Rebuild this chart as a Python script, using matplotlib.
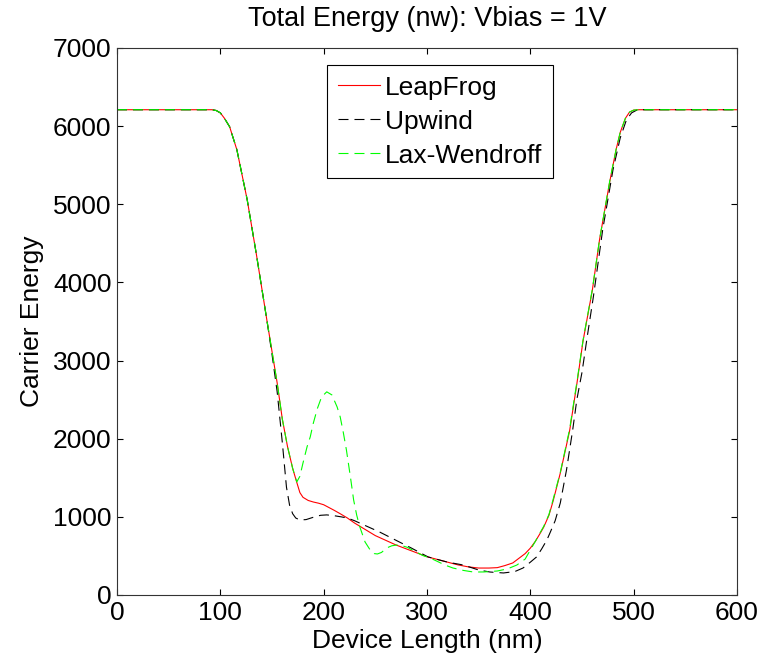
import matplotlib
matplotlib.use('Agg')
import matplotlib.pyplot as plt

plt.rcParams['font.family'] = ['Liberation Sans', 'DejaVu Sans']
plt.rcParams['lines.scale_dashes'] = False

# LeapFrog
x_lf = [0, 92, 96, 100, 104, 109, 116, 126, 135, 145, 150, 155, 160, 165, 170, 174,
        177, 180, 185, 190, 195, 200, 205, 210, 216, 223, 230, 240, 250, 260, 270,
        280, 290, 300, 310, 320, 330, 340, 350, 360, 368, 375, 383, 390, 395, 400,
        405, 410, 413, 418, 422, 429, 438, 445, 451, 460, 467, 477, 483, 487, 492,
        496, 500, 505, 600]
y_lf = [6210, 6210, 6200, 6170, 6100, 5992, 5698, 5058, 4350, 3521, 3117, 2714, 2250,
        1900, 1620, 1440, 1310, 1250, 1210, 1190, 1175, 1155, 1120, 1085, 1040, 985,
        920, 840, 760, 700, 640, 590, 540, 490, 455, 420, 385, 360, 345, 345, 350,
        375, 410, 480, 530, 600, 690, 800, 870, 1020, 1200, 1560, 2100, 2700, 3250,
        3900, 4550, 5300, 5700, 5920, 6100, 6180, 6205, 6210, 6210]

# Upwind
x_up = [0, 92, 96, 100, 104, 109, 116, 126, 135, 145, 150, 155, 160, 164, 167, 170,
        173, 177, 183, 190, 197, 203, 210, 217, 223, 230, 240, 254, 270, 285, 301,
        320, 335, 350, 361, 374, 385, 393, 400, 406, 411, 416, 419, 424, 429, 435,
        441, 445, 450, 455, 461, 470, 480, 487, 493, 498, 503, 508, 600]
y_up = [6210, 6210, 6200, 6170, 6100, 5992, 5698, 5058, 4350, 3521, 3080, 2600, 1950,
        1380, 1150, 1040, 985, 960, 965, 995, 1020, 1025, 1015, 1000, 985, 950, 890,
        807, 700, 600, 487, 420, 384, 320, 294, 282, 300, 346, 420, 487, 590, 704,
        794, 950, 1178, 1600, 2113, 2500, 2850, 3300, 3816, 4673, 5442, 5850, 6080,
        6170, 6205, 6210, 6210]

# Lax-Wendroff
x_lw = [0, 92, 96, 100, 104, 109, 116, 126, 135, 145, 150, 155, 160, 165, 170, 174,
        177, 180, 184, 187, 190, 194, 198, 203, 208, 213, 216, 219, 222, 226, 229,
        232, 235, 240, 245, 249, 252, 256, 261, 266, 271, 276, 281, 288, 296, 303,
        310, 318, 325, 335, 345, 355, 368, 378, 387, 395, 400, 405, 410, 413, 418,
        422, 429, 438, 445, 451, 460, 467, 477, 483, 487, 492, 496, 500, 505, 600]
y_lw = [6210, 6210, 6200, 6170, 6100, 5992, 5698, 5058, 4350, 3521, 3117, 2714, 2250,
        1900, 1620, 1447, 1520, 1690, 1900, 2023, 2200, 2390, 2535, 2600, 2560, 2407,
        2279, 2080, 1857, 1500, 1216, 1020, 871, 680, 576, 530, 525, 545, 602, 630,
        640, 630, 610, 560, 505, 474, 430, 380, 346, 315, 294, 295, 307, 335, 384,
        460, 576, 690, 810, 880, 1030, 1220, 1570, 2120, 2720, 3260, 3910, 4550,
        5310, 5700, 5920, 6100, 6180, 6205, 6210, 6210]

fs = 19
fig = plt.figure(figsize=(7.64, 6.63), dpi=100)
ax = fig.add_axes([117/764, 1-595/663, 620/764, 547/663])

ax.plot(x_lf, y_lf, color='#ff0000', lw=0.8, label='LeapFrog')
ax.plot(x_up, y_up, color='black', lw=0.8, linestyle=(0, (7.2, 4.3)), label='Upwind')
ax.plot(x_lw, y_lw, color='#00ff00', lw=0.8, linestyle=(0, (7.2, 4.3)), label='Lax-Wendroff')

ax.set_xlim(0, 600)
ax.set_ylim(0, 7000)
ax.set_xticks(range(0, 601, 100))
ax.set_yticks(range(0, 7001, 1000))
ax.tick_params(direction='in', top=True, right=True, length=4, width=0.8,
               labelsize=fs, pad=4)
for s in ax.spines.values():
    s.set_linewidth(0.8)
    s.set_color('#333333')

ax.set_xlabel('Device Length (nm)', fontsize=fs, labelpad=3)
ax.set_ylabel('Carrier Energy', fontsize=fs, labelpad=6)
ax.set_title('Total Energy (nw): Vbias = 1V', fontsize=19.5, pad=16)

leg = ax.legend(loc='upper left', bbox_to_anchor=(0.339, 0.969), fontsize=fs,
                fancybox=False, framealpha=1, edgecolor='black', handlelength=1.6,
                handletextpad=0.2, labelspacing=0.38, borderpad=0.4, borderaxespad=0)
leg.get_frame().set_linewidth(0.8)

fig.savefig('out.png', dpi=100)
